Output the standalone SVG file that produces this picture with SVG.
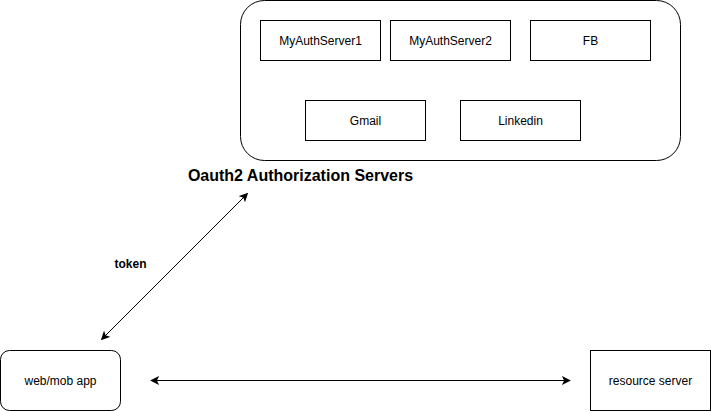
<svg xmlns="http://www.w3.org/2000/svg" width="711" height="411" viewBox="0 0 711 411">
<defs>
<style>
.box{fill:#fff;stroke:#000;stroke-width:1}
.t{font-family:"Liberation Sans",Arial,sans-serif;font-size:12px;fill:#000;text-anchor:middle;dominant-baseline:central}
.b{font-weight:bold}
.c{stroke:#000;stroke-width:1;fill:none}
</style>
<marker id="ah" viewBox="0 0 10 10" refX="9" refY="5" markerWidth="9" markerHeight="9" markerUnits="userSpaceOnUse" orient="auto-start-reverse">
<path d="M0,0 L10,5 L0,10 L2.5,5 Z" fill="#000"/>
</marker>
</defs>
<rect width="711" height="411" fill="#fff"/>
<g id="auth-servers">
<rect class="box" x="240.5" y="0.5" width="440" height="160" rx="24" ry="24"/>
</g>
<g id="myauthserver1"><rect class="box" x="260.5" y="20.5" width="120" height="40"/><text class="t" x="320.5" y="40.5">MyAuthServer1</text></g>
<g id="myauthserver2"><rect class="box" x="390.5" y="20.5" width="120" height="40"/><text class="t" x="450.5" y="40.5">MyAuthServer2</text></g>
<g id="fb"><rect class="box" x="530.5" y="20.5" width="120" height="40"/><text class="t" x="590.5" y="40.5">FB</text></g>
<g id="gmail"><rect class="box" x="305.5" y="100.5" width="120" height="40"/><text class="t" x="365.5" y="120.5">Gmail</text></g>
<g id="linkedin"><rect class="box" x="460.5" y="100.5" width="120" height="40"/><text class="t" x="520.5" y="120.5">Linkedin</text></g>
<g id="title"><text class="t b" x="300.5" y="175" style="font-size:16px">Oauth2 Authorization Servers</text></g>
<g id="webapp"><rect class="box" x="0.5" y="350.5" width="120" height="60" rx="9" ry="9"/><text class="t" x="60.5" y="380.5">web/mob app</text></g>
<g id="resource-server"><rect class="box" x="590.5" y="350.5" width="120" height="60"/><text class="t" x="650.5" y="380.5">resource server</text></g>
<g id="connectors">
<line class="c" x1="101.5" y1="339.5" x2="247.5" y2="193.5" marker-start="url(#ah)" marker-end="url(#ah)"/>
<line class="c" x1="151" y1="380.5" x2="570" y2="380.5" marker-start="url(#ah)" marker-end="url(#ah)"/>
<text class="t b" x="130.5" y="263.5">token</text>
</g>
</svg>
